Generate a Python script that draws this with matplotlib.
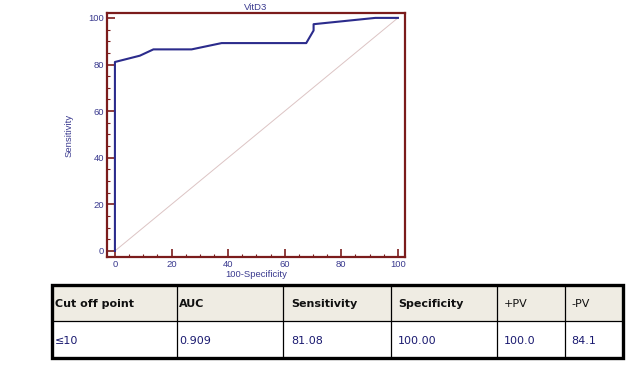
import matplotlib
matplotlib.use("Agg")
import matplotlib.pyplot as plt
from matplotlib.patches import Rectangle
from matplotlib.lines import Line2D
from matplotlib.ticker import MultipleLocator

# ROC data
fpr = [0, 0, 8.8, 13.6, 27.1, 37.7, 67.6, 70.2, 70.2, 92.0, 100]
tpr = [0, 81.08, 83.78, 86.49, 86.49, 89.19, 89.19, 94.59, 97.30, 100, 100]
title = "VitD3"
xlabel = "100-Specificity"
ylabel = "Sensitivity"

# table data
headers = ["Cut off point", "AUC", "Sensitivity", "Specificity", "+PV", "-PV"]
header_bold = [True, True, True, True, False, False]
row = ["\u226410", "0.909", "81.08", "100.00", "100.0", "84.1"]

W, H = 644, 376
fig = plt.figure(figsize=(W / 100, H / 100), dpi=100)
fig.patch.set_facecolor("white")

maroon = "#7b1c1c"
navy = "#2b2b8c"
label_col = "#3a3a8f"

def fx(px):
    return px / W

def fy(py):
    return 1 - py / H

ax = fig.add_axes([fx(107), fy(257), fx(405) - fx(107), fy(13) - fy(257)])
ax.plot([0, 100], [0, 100], color="#dcc4c4", lw=0.7, zorder=1)
ax.plot(fpr, tpr, color=navy, lw=1.5, zorder=2)
ax.set_xlim(-2.8, 102.5)
ax.set_ylim(-2.6, 102.1)
for s in ax.spines.values():
    s.set_color(maroon)
    s.set_linewidth(1.6)
ax.xaxis.set_major_locator(MultipleLocator(20))
ax.yaxis.set_major_locator(MultipleLocator(20))
ax.xaxis.set_minor_locator(MultipleLocator(5))
ax.yaxis.set_minor_locator(MultipleLocator(5))
ax.tick_params(which="both", direction="in", color=maroon, labelcolor=label_col,
               labelsize=6.8, pad=2)
ax.tick_params(which="major", length=5.5, width=1.2)
ax.tick_params(which="minor", length=2.5, width=0.8)
for lab in ax.get_xticklabels() + ax.get_yticklabels():
    lab.set_family("Liberation Sans")
ax.set_title(title, fontsize=6.8, color=label_col, family="Liberation Sans", pad=2)
ax.set_xlabel(xlabel, fontsize=6.8, color=label_col, family="Liberation Sans", labelpad=1)
ax.set_ylabel(ylabel, fontsize=6.8, color=label_col, family="Liberation Sans", labelpad=11)

# table
cols = [52, 177, 283, 391, 497, 565, 623]
top, mid, bot = 285, 321, 358
pads = [3, 2, 8, 7, 7, 6]
fig.patches.append(Rectangle((fx(cols[0]), fy(mid)), fx(cols[-1]) - fx(cols[0]),
                             fy(top) - fy(mid), transform=fig.transFigure,
                             facecolor="#efece3", edgecolor="none", zorder=0))
for c in cols[1:-1]:
    fig.add_artist(Line2D([fx(c), fx(c)], [fy(top), fy(bot)], color="black", lw=0.9))
fig.add_artist(Line2D([fx(cols[0]), fx(cols[-1])], [fy(mid), fy(mid)], color="black", lw=0.9))
fig.patches.append(Rectangle((fx(cols[0]), fy(bot)), fx(cols[-1]) - fx(cols[0]),
                             fy(top) - fy(bot), transform=fig.transFigure,
                             facecolor="none", edgecolor="black", lw=2.4, zorder=3))
for i, (h, r) in enumerate(zip(headers, row)):
    fig.text(fx(cols[i] + pads[i]), fy((top + mid) / 2 + 1), h, ha="left", va="center",
             fontsize=8, fontweight="bold" if header_bold[i] else "normal",
             color="#111111", family="DejaVu Sans")
    fig.text(fx(cols[i] + pads[i]), fy((mid + bot) / 2 + 1), r, ha="left", va="center",
             fontsize=8, color="#1a1a70", family="DejaVu Sans")

fig.savefig("out.png", dpi=100)
